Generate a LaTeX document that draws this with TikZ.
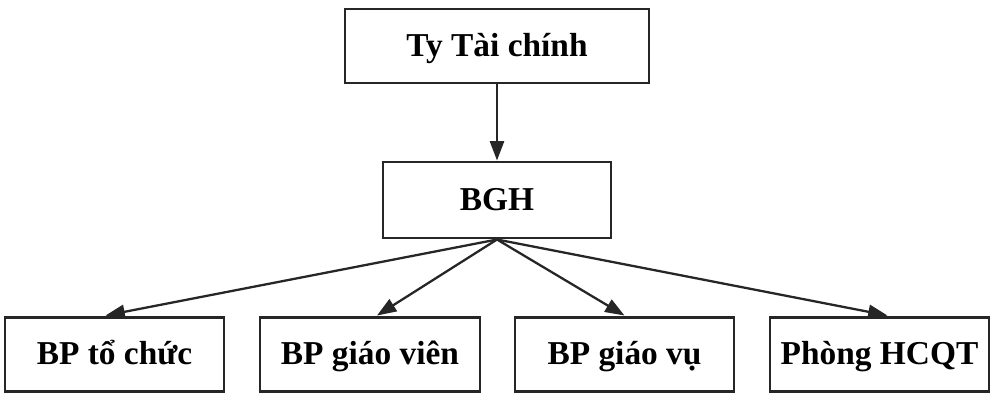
\documentclass[tikz,border=0pt]{standalone}
\usepackage{fontspec}
\setmainfont{Liberation Serif}
\usepackage{tikz}
\usetikzlibrary{arrows.meta, positioning}

\tikzset{
  unitbox/.style={draw=black!85, line width=1.7pt, inner sep=0pt,
    text height=12.5pt, text depth=0pt,
    minimum height=74*0.02cm, font=\fontsize{19}{22}\selectfont\bfseries},
  link/.style={draw=black!85, line width=1.3pt,
    -{Triangle[length=11pt, width=8pt]}}
}

\begin{document}
\begin{tikzpicture}[x=0.02cm, y=0.02cm]
  % page frame (992 x 393 px)
  \useasboundingbox (0,0) rectangle (992,-393);

  % Top level
  \node[unitbox, minimum width=304*0.02cm] (taichinh) at (497,-46) {Ty Tài chính};

  % Board
  \node[unitbox, minimum width=228*0.02cm, minimum height=76*0.02cm] (bgh) at (497,-200) {BGH};

  % Departments
  \node[unitbox, minimum width=219*0.02cm] (tochuc)  at (114.5,-354) {BP tổ chức};
  \node[unitbox, minimum width=220*0.02cm] (giaovien) at (370,-354)   {BP giáo viên};
  \node[unitbox, minimum width=219*0.02cm] (giaovu)  at (624.5,-354) {BP giáo vụ};
  \node[unitbox, minimum width=219*0.02cm] (hcqt)    at (879.5,-354) {Phòng HCQT};

  % Connectors
  \draw[link] (taichinh.south) -- (bgh.north);
  \foreach \dept/\dx in {tochuc/-9, giaovien/7, giaovu/0, hcqt/8}{
    \draw[link] (bgh.south) -- ([xshift=\dx*0.02cm]\dept.north);
  }
\end{tikzpicture}
\end{document}
